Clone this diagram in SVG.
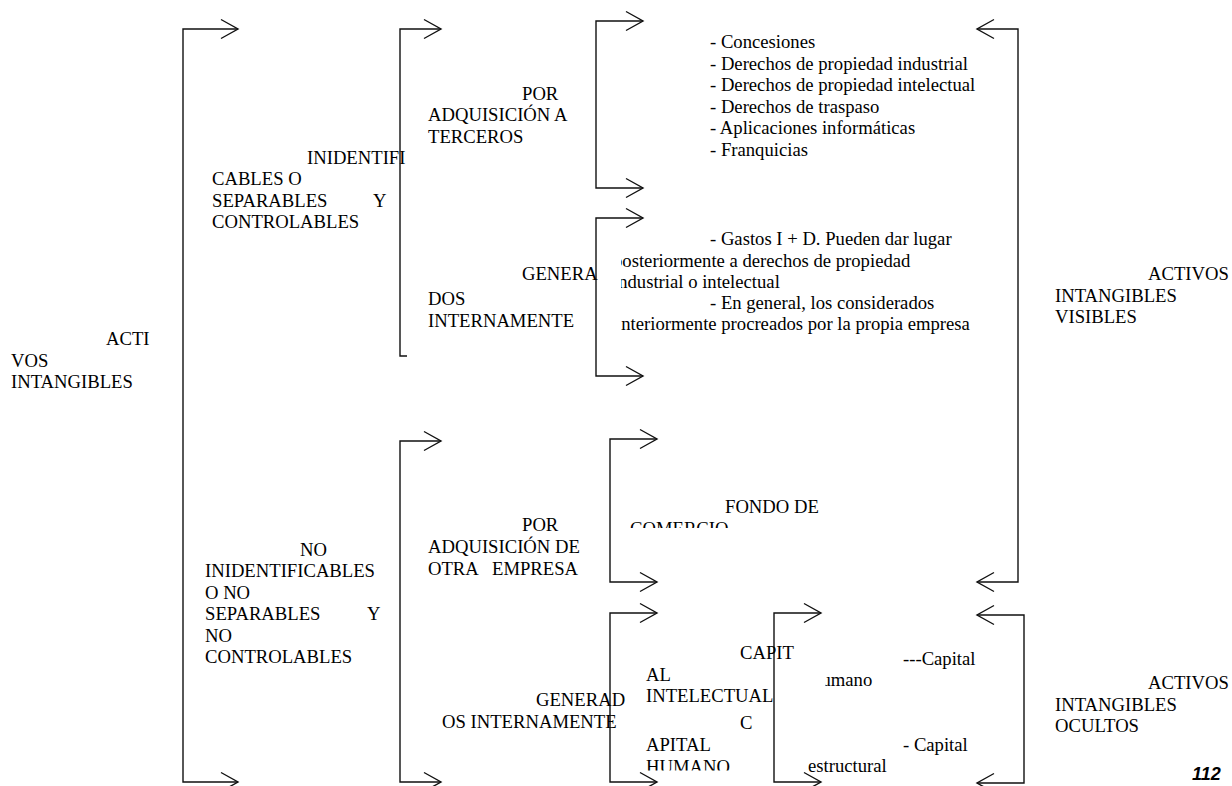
<svg xmlns="http://www.w3.org/2000/svg" width="1232" height="786" viewBox="0 0 1232 786">
<style>
  text { font-family: "Liberation Serif", "Times New Roman", serif; font-size: 18.67px; fill: #000; }
  .num { font-family: "Liberation Sans", Arial, sans-serif; font-weight: bold; font-style: italic; font-size: 18px; }
  .br { fill: none; stroke: #111; stroke-width: 1.4; }
</style>
<defs>
  <marker id="ah" markerUnits="userSpaceOnUse" markerWidth="20" markerHeight="22" viewBox="0 0 20 22" refX="17" refY="11" orient="auto-start-reverse" overflow="visible">
    <path d="M0,1.5 L17,11 L0,20.5" fill="none" stroke="#111" stroke-width="1.4"/>
  </marker>
  <clipPath id="clipGastos"><rect x="621" y="225" width="400" height="120"/></clipPath>
  <clipPath id="clipFondo"><rect x="600" y="490" width="300" height="38"/></clipPath>
  <clipPath id="clipCapit"><rect x="630" y="640" width="200" height="130.5"/></clipPath>
  <clipPath id="clipHumano"><rect x="825.5" y="668" width="100" height="28"/></clipPath>
</defs>

<g id="connectors">
  <path class="br" d="M238,29 H183 V782 H238" marker-start="url(#ah)" marker-end="url(#ah)"/>
  <path class="br" d="M441,29 H400 V356 H407" marker-start="url(#ah)"/>
  <path class="br" d="M643,21 H596 V188 H643" marker-start="url(#ah)" marker-end="url(#ah)"/>
  <path class="br" d="M643,218 H596 V376 H643" marker-start="url(#ah)" marker-end="url(#ah)"/>
  <path class="br" d="M977,29 H1018 V582 H977" marker-start="url(#ah)" marker-end="url(#ah)"/>
  <path class="br" d="M441,441 H400 V782 H441" marker-start="url(#ah)" marker-end="url(#ah)"/>
  <path class="br" d="M657,439 H610 V582 H657" marker-start="url(#ah)" marker-end="url(#ah)"/>
  <path class="br" d="M657,613 H610 V782 H657" marker-start="url(#ah)" marker-end="url(#ah)"/>
  <path class="br" d="M821,613 H774 V782 H821" marker-start="url(#ah)" marker-end="url(#ah)"/>
  <path class="br" d="M977,615 H1024 V783 H977" marker-start="url(#ah)" marker-end="url(#ah)"/>
</g>

<g id="activos-intangibles">
  <text x="106" y="345">ACTI</text>
  <text x="11" y="367">VOS</text>
  <text x="11" y="388">INTANGIBLES</text>
</g>

<g id="identificables">
  <text x="307" y="164">INIDENTIFI</text>
  <text x="212" y="185">CABLES O</text>
  <text x="212" y="207">SEPARABLES</text>
  <text x="373" y="207">Y</text>
  <text x="212" y="228">CONTROLABLES</text>
</g>

<g id="no-identificables">
  <text x="300" y="556">NO</text>
  <text x="205" y="577">INIDENTIFICABLES</text>
  <text x="205" y="599">O NO</text>
  <text x="205" y="620">SEPARABLES</text>
  <text x="367" y="620">Y</text>
  <text x="205" y="642">NO</text>
  <text x="205" y="663">CONTROLABLES</text>
</g>

<g id="por-adquisicion-terceros">
  <text x="522" y="100">POR</text>
  <text x="428" y="121">ADQUISICIÓN A</text>
  <text x="428" y="143">TERCEROS</text>
</g>

<g id="generados-internamente-1">
  <text x="522" y="280">GENERA</text>
  <text x="428" y="305">DOS</text>
  <text x="428" y="327">INTERNAMENTE</text>
</g>

<g id="lista-adquiridos">
  <text x="710" y="48">- Concesiones</text>
  <text x="710" y="69.5">- Derechos de propiedad industrial</text>
  <text x="710" y="91">- Derechos de propiedad intelectual</text>
  <text x="710" y="112.5">- Derechos de traspaso</text>
  <text x="710" y="134">- Aplicaciones informáticas</text>
  <text x="710" y="155.5">- Franquicias</text>
</g>

<g id="lista-generados" clip-path="url(#clipGastos)">
  <text x="710" y="245">- Gastos I + D. Pueden dar lugar</text>
  <text x="613" y="267">posteriormente a derechos de propiedad</text>
  <text x="613" y="288">industrial o intelectual</text>
  <text x="710" y="309">- En general, los considerados</text>
  <text x="613" y="330">anteriormente procreados por la propia empresa</text>
</g>

<g id="activos-visibles">
  <text x="1148" y="280">ACTIVOS</text>
  <text x="1055" y="302">INTANGIBLES</text>
  <text x="1055" y="323">VISIBLES</text>
</g>

<g id="por-adquisicion-empresa">
  <text x="522" y="531">POR</text>
  <text x="428" y="553">ADQUISICIÓN DE</text>
  <text x="428" y="575">OTRA</text>
  <text x="492" y="575">EMPRESA</text>
</g>

<g id="fondo-comercio" clip-path="url(#clipFondo)">
  <text x="725" y="513">FONDO DE</text>
  <text x="630" y="534.5">COMERCIO</text>
</g>

<g id="generados-internamente-2">
  <text x="536" y="706">GENERAD</text>
  <text x="442" y="728">OS INTERNAMENTE</text>
</g>

<g id="capital-intelectual" clip-path="url(#clipCapit)">
  <text x="740" y="659">CAPIT</text>
  <text x="646" y="681">AL</text>
  <text x="646" y="702">INTELECTUAL</text>
  <text x="740" y="729">C</text>
  <text x="646" y="751">APITAL</text>
  <text x="646" y="772.5">HUMANO</text>
</g>

<g id="capital-humano">
  <text x="903" y="665">---Capital</text>
  <text x="808" y="686" clip-path="url(#clipHumano)">Humano</text>
</g>

<g id="capital-estructural">
  <text x="903" y="751">- Capital</text>
  <text x="808" y="772">estructural</text>
</g>

<g id="activos-ocultos">
  <text x="1148" y="689">ACTIVOS</text>
  <text x="1055" y="711">INTANGIBLES</text>
  <text x="1055" y="732">OCULTOS</text>
</g>

<g id="page-number">
  <text class="num" x="1192" y="780">112</text>
</g>
</svg>
